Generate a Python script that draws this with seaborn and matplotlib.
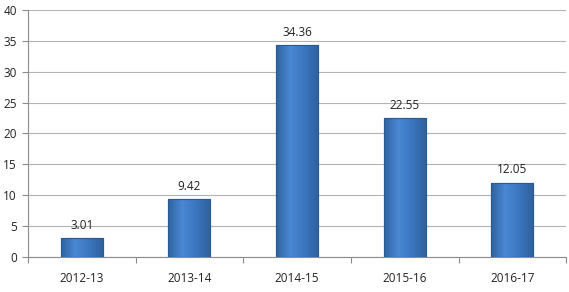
import matplotlib
matplotlib.use("Agg")
import matplotlib.pyplot as plt
import seaborn as sns
import numpy as np
import pandas as pd
from matplotlib.colors import LinearSegmentedColormap

categories = ["2012-13", "2013-14", "2014-15", "2015-16", "2016-17"]
values = [3.01, 9.42, 34.36, 22.55, 12.05]
yticks = [0, 5, 10, 15, 20, 25, 30, 35, 40]

sns.set_theme(style="white")
plt.rcParams["font.family"] = ["Open Sans", "DejaVu Sans"]

fig = plt.figure(figsize=(5.69, 2.92), dpi=100)
ax = fig.add_axes([0.049, 0.12, 0.946, 0.846])

df = pd.DataFrame({"cat": categories, "val": values})
sns.barplot(data=df, x="cat", y="val", ax=ax, color="#3F7CC9", width=0.39,
            saturation=1, edgecolor="#2B5A93", linewidth=0.8, zorder=3)

# gradient overlay for each bar (horizontal and slight vertical shading)
cmap = LinearSegmentedColormap.from_list("g", ["#2F629F", "#4A88D4", "#3C76C0", "#2F629F"])
grad = np.linspace(0, 1, 64).reshape(1, -1)
for p in ax.patches:
    x0, y0 = p.get_x(), p.get_y()
    w, h = p.get_width(), p.get_height()
    im = ax.imshow(grad, extent=[x0, x0 + w, y0, y0 + h], aspect="auto",
                   cmap=cmap, zorder=3.5)
    im.set_clip_path(p)
    ax.add_patch(plt.Rectangle((x0, y0), w, h, fill=False,
                               edgecolor="#2B5A93", linewidth=0.8, zorder=4))

for i, v in enumerate(values):
    ax.text(i, v + 1.0, f"{v:.2f}", ha="center", va="bottom", fontsize=8.5, color="#222222")

ax.set_xlim(-0.5, len(categories) - 0.5)
ax.set_ylim(0, 40)
ax.set_yticks(yticks)
ax.set_yticklabels([str(t) for t in yticks], fontsize=8.5, color="#222222")
ax.set_xticks(range(len(categories)))
ax.set_xticklabels(categories, fontsize=8.5, color="#222222")
ax.set_xlabel("")
ax.set_ylabel("")
ax.yaxis.grid(True, color="#B3B3B3", linewidth=0.8, zorder=0)
ax.set_axisbelow(True)

ax.set_xticks(np.arange(-0.5, len(categories), 1.0), minor=True)
ax.tick_params(axis="x", which="major", length=0, pad=11)
ax.tick_params(axis="x", which="minor", length=4, color="#8C8C8C", width=0.8, bottom=True)
ax.tick_params(axis="y", length=4, color="#8C8C8C", width=0.8, left=True, pad=4)

for s in ["top", "right"]:
    ax.spines[s].set_visible(False)
for s in ["left", "bottom"]:
    ax.spines[s].set_color("#8C8C8C")
    ax.spines[s].set_linewidth(0.8)

fig.savefig("out.png", dpi=100)
